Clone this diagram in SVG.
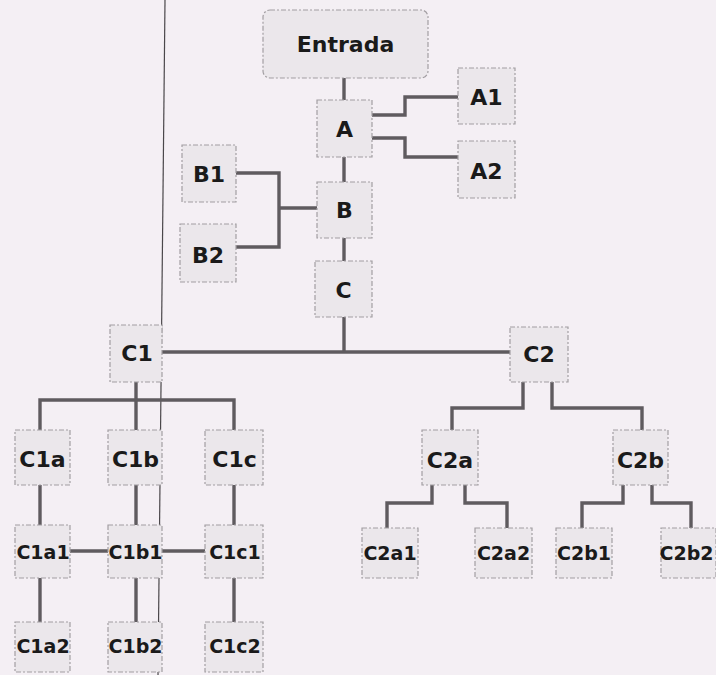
<svg xmlns="http://www.w3.org/2000/svg" width="716" height="675" viewBox="0 0 716 675">
<style>
.bg{fill:#f4eff4}
.box{fill:#ebe7eb;stroke:#a29ea2;stroke-width:1.2;stroke-dasharray:5 2 2 2}
.t{font-family:"DejaVu Sans",Verdana,sans-serif;font-weight:bold;font-size:22px;fill:#1a1a1a;text-anchor:middle}
.s{font-size:19px}
.conn path{fill:none;stroke:#5f5b5f;stroke-width:3.4}
</style>
<rect class="bg" x="0" y="0" width="716" height="675"/>
<line x1="165" y1="0" x2="158" y2="675" stroke="#4a474a" stroke-width="1.2"/>
<g class="conn">
<path d="M344 78V100"/>
<path d="M344 157V182"/>
<path d="M344 238V261"/>
<path d="M372 115H405V97H458"/>
<path d="M372 138H405V157H458"/>
<path d="M236 173H279V247H236"/>
<path d="M279 208H317"/>
<path d="M344 317V352"/>
<path d="M162 352H510"/>
<path d="M136 382V400"/>
<path d="M40 430V400H234V430"/>
<path d="M136 400V430"/>
<path d="M40 485V525"/>
<path d="M136 485V525"/>
<path d="M234 485V525"/>
<path d="M70 551H108"/>
<path d="M162 551H205"/>
<path d="M40 578V622"/>
<path d="M136 578V622"/>
<path d="M234 578V622"/>
<path d="M523 382V408H452V430"/>
<path d="M552 382V408H642V430"/>
<path d="M432 485V503H387V528"/>
<path d="M465 485V503H507V528"/>
<path d="M623 485V503H582V528"/>
<path d="M652 485V503H691V528"/>
</g>
<g id="entrada"><rect class="box" x="263" y="10" width="165" height="68" rx="7"/><text class="t" x="345.5" y="52">Entrada</text></g>
<g id="A"><rect class="box" x="317" y="100" width="55" height="57"/><text class="t" x="344.5" y="136.5">A</text></g>
<g id="A1"><rect class="box" x="458" y="68" width="57" height="56"/><text class="t" x="486.5" y="104.5">A1</text></g>
<g id="A2"><rect class="box" x="458" y="141" width="57" height="57"/><text class="t" x="486.5" y="178.5">A2</text></g>
<g id="B1"><rect class="box" x="182" y="145" width="54" height="57"/><text class="t" x="209" y="182">B1</text></g>
<g id="B2"><rect class="box" x="180" y="224" width="56" height="58"/><text class="t" x="208" y="263">B2</text></g>
<g id="B"><rect class="box" x="317" y="182" width="55" height="56"/><text class="t" x="344.5" y="218">B</text></g>
<g id="C"><rect class="box" x="315" y="261" width="57" height="56"/><text class="t" x="343.5" y="297.5">C</text></g>
<g id="C1"><rect class="box" x="110" y="325" width="52" height="57"/><text class="t" x="137" y="360.5">C1</text></g>
<g id="C2"><rect class="box" x="510" y="327" width="58" height="55"/><text class="t" x="539" y="361.5">C2</text></g>
<g id="C1a"><rect class="box" x="15" y="430" width="55" height="55"/><text class="t" x="42.5" y="466.5">C1a</text></g>
<g id="C1b"><rect class="box" x="108" y="430" width="54" height="55"/><text class="t" x="135.5" y="466.5">C1b</text></g>
<g id="C1c"><rect class="box" x="205" y="430" width="58" height="55"/><text class="t" x="234.5" y="466.5">C1c</text></g>
<g id="C2a"><rect class="box" x="422" y="430" width="56" height="55"/><text class="t" x="450" y="467.5">C2a</text></g>
<g id="C2b"><rect class="box" x="613" y="430" width="55" height="55"/><text class="t" x="640.5" y="467.5">C2b</text></g>
<g id="C1a1"><rect class="box" x="15" y="525" width="55" height="53"/><text class="t s" x="43" y="558.5">C1a1</text></g>
<g id="C1b1"><rect class="box" x="108" y="525" width="54" height="53"/><text class="t s" x="135.5" y="558.5">C1b1</text></g>
<g id="C1c1"><rect class="box" x="205" y="525" width="58" height="53"/><text class="t s" x="235" y="558.5">C1c1</text></g>
<g id="C2a1"><rect class="box" x="362" y="528" width="56" height="50"/><text class="t s" x="390" y="559.5">C2a1</text></g>
<g id="C2a2"><rect class="box" x="475" y="528" width="57" height="50"/><text class="t s" x="503.5" y="559.5">C2a2</text></g>
<g id="C2b1"><rect class="box" x="556" y="528" width="56" height="50"/><text class="t s" x="584" y="559.5">C2b1</text></g>
<g id="C2b2"><rect class="box" x="661" y="528" width="55" height="50"/><text class="t s" x="686.5" y="559.5">C2b2</text></g>
<g id="C1a2"><rect class="box" x="15" y="622" width="55" height="50"/><text class="t s" x="43" y="653">C1a2</text></g>
<g id="C1b2"><rect class="box" x="108" y="622" width="54" height="50"/><text class="t s" x="135.5" y="653">C1b2</text></g>
<g id="C1c2"><rect class="box" x="205" y="622" width="58" height="50"/><text class="t s" x="235" y="653">C1c2</text></g>
</svg>
